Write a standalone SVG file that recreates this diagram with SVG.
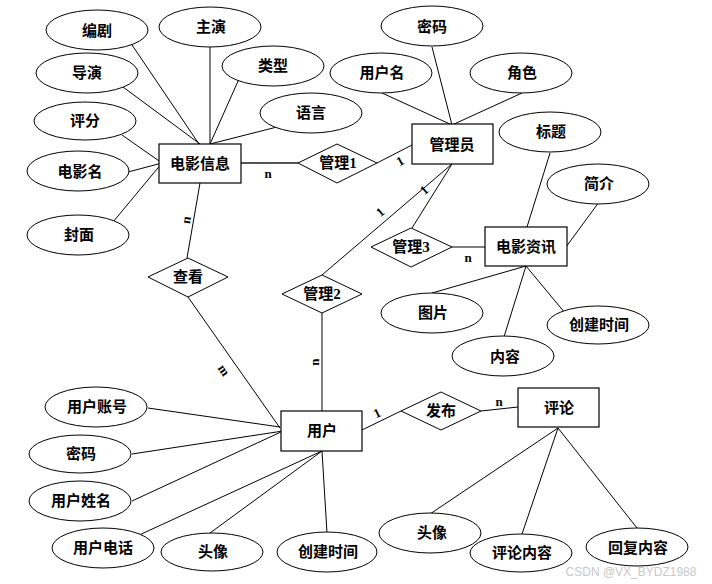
<svg xmlns="http://www.w3.org/2000/svg" width="712" height="584" viewBox="0 0 712 584">
<style>
.e{fill:#fff;stroke:#000;stroke-width:1}
.r{fill:#fff;stroke:#000;stroke-width:1.2}
.d{fill:#fff;stroke:#000;stroke-width:1}
.t{font-family:"Liberation Serif","Noto Sans CJK SC",serif;font-weight:bold;font-size:15px;text-anchor:middle;dominant-baseline:central;fill:#000}
.l{font-family:"Liberation Serif",serif;font-weight:bold;font-size:13px;text-anchor:middle;dominant-baseline:central;fill:#000}
#connectors line{stroke:#000;stroke-width:1}
</style>
<rect width="712" height="584" fill="#fff"/>
<g id="connectors">
<line x1="130" y1="42" x2="199" y2="144"/>
<line x1="210" y1="47" x2="210" y2="144"/>
<line x1="239" y1="79" x2="210" y2="144"/>
<line x1="123" y1="87" x2="200" y2="144"/>
<line x1="277" y1="127" x2="210" y2="144"/>
<line x1="122" y1="135" x2="162" y2="163"/>
<line x1="128" y1="172" x2="162" y2="163"/>
<line x1="113" y1="222" x2="162" y2="163"/>
<line x1="241" y1="163" x2="298" y2="163" style="stroke:#555;stroke-width:2"/>
<line x1="200" y1="183" x2="187" y2="258"/>
<line x1="382" y1="93" x2="452" y2="125"/>
<line x1="432" y1="47" x2="452" y2="125"/>
<line x1="522" y1="93" x2="452" y2="125"/>
<line x1="377" y1="163" x2="412" y2="145"/>
<line x1="452" y1="164" x2="412" y2="228"/>
<line x1="452" y1="164" x2="322" y2="275"/>
<line x1="452" y1="247" x2="485" y2="247"/>
<line x1="550" y1="153" x2="527" y2="227"/>
<line x1="599" y1="202" x2="566" y2="247"/>
<line x1="526" y1="266" x2="432" y2="293"/>
<line x1="526" y1="266" x2="503" y2="340"/>
<line x1="526" y1="266" x2="565" y2="313"/>
<line x1="188" y1="297" x2="280" y2="428"/>
<line x1="322" y1="313" x2="322" y2="411"/>
<line x1="148" y1="408" x2="280" y2="427"/>
<line x1="132" y1="454" x2="283" y2="431"/>
<line x1="132" y1="501" x2="283" y2="431"/>
<line x1="137" y1="536" x2="322" y2="451"/>
<line x1="210" y1="533" x2="322" y2="451"/>
<line x1="327" y1="533" x2="322" y2="451"/>
<line x1="362" y1="430" x2="401" y2="411"/>
<line x1="481" y1="411" x2="518" y2="407"/>
<line x1="558" y1="428" x2="430" y2="514"/>
<line x1="558" y1="428" x2="522" y2="534"/>
<line x1="558" y1="428" x2="637" y2="528"/>
</g>
<g id="labels">
<text class="l" x="268" y="173">n</text>
<text class="l" x="186" y="220" transform="rotate(-80 186 220)">n</text>
<text class="l" x="400" y="161" transform="rotate(-30 400 161)">1</text>
<text class="l" x="424" y="190" transform="rotate(-40 424 190)">1</text>
<text class="l" x="380" y="212" transform="rotate(-40 380 212)">1</text>
<text class="l" x="468" y="257">n</text>
<text class="l" x="224" y="370" transform="rotate(55 224 370)">m</text>
<text class="l" x="314" y="362" transform="rotate(-90 314 362)">n</text>
<text class="l" x="377" y="413" transform="rotate(-25 377 413)">1</text>
<text class="l" x="499" y="401">n</text>
</g>
<g id="movie"><rect class="r" x="159" y="144" width="82" height="39"/><text class="t" x="200" y="164">电影信息</text></g>
<g id="a-bianju"><ellipse class="e" cx="97" cy="30" rx="51" ry="20"/><text class="t" x="97" y="31">编剧</text></g>
<g id="a-zhuyan"><ellipse class="e" cx="210" cy="27" rx="51" ry="20"/><text class="t" x="211" y="27">主演</text></g>
<g id="a-leixing"><ellipse class="e" cx="273" cy="66" rx="51" ry="20"/><text class="t" x="273" y="66">类型</text></g>
<g id="a-daoyan"><ellipse class="e" cx="87" cy="73" rx="51" ry="20"/><text class="t" x="87" y="73">导演</text></g>
<g id="a-yuyan"><ellipse class="e" cx="311" cy="113" rx="51" ry="20"/><text class="t" x="311" y="113">语言</text></g>
<g id="a-pingfen"><ellipse class="e" cx="85" cy="121" rx="51" ry="19"/><text class="t" x="85" y="121">评分</text></g>
<g id="a-dianyingming"><ellipse class="e" cx="78" cy="171" rx="51" ry="20"/><text class="t" x="80" y="172">电影名</text></g>
<g id="a-fengmian"><ellipse class="e" cx="78" cy="235" rx="51" ry="20"/><text class="t" x="79" y="235">封面</text></g>
<g id="rel-guanli1"><polygon class="d" points="298,163 337,144 377,163 337,183"/><text class="t" x="338" y="163">管理1</text></g>
<g id="admin"><rect class="r" x="412" y="124" width="81" height="40"/><text class="t" x="452" y="145">管理员</text></g>
<g id="a-mima1"><ellipse class="e" cx="432" cy="26" rx="51" ry="20"/><text class="t" x="432" y="27">密码</text></g>
<g id="a-yonghuming"><ellipse class="e" cx="381" cy="73" rx="51" ry="20"/><text class="t" x="382" y="73">用户名</text></g>
<g id="a-juese"><ellipse class="e" cx="521" cy="73" rx="51" ry="20"/><text class="t" x="522" y="73">角色</text></g>
<g id="news"><rect class="r" x="485" y="227" width="82" height="39"/><text class="t" x="526" y="247">电影资讯</text></g>
<g id="a-biaoti"><ellipse class="e" cx="550" cy="132" rx="51" ry="20"/><text class="t" x="551" y="132">标题</text></g>
<g id="a-jianjie"><ellipse class="e" cx="598" cy="184" rx="51" ry="20"/><text class="t" x="599" y="184">简介</text></g>
<g id="rel-guanli3"><polygon class="d" points="371,247 411,228 452,247 411,267"/><text class="t" x="411" y="247">管理3</text></g>
<g id="a-tupian"><ellipse class="e" cx="432" cy="313" rx="51" ry="20"/><text class="t" x="433" y="313">图片</text></g>
<g id="a-neirong"><ellipse class="e" cx="503" cy="356" rx="51" ry="20"/><text class="t" x="505" y="357">内容</text></g>
<g id="a-chuangjian2"><ellipse class="e" cx="598" cy="325" rx="51" ry="19"/><text class="t" x="599" y="325">创建时间</text></g>
<g id="rel-chakan"><polygon class="d" points="148,277 188,258 228,277 188,297"/><text class="t" x="188" y="277">查看</text></g>
<g id="rel-guanli2"><polygon class="d" points="282,294 322,275 362,294 322,313"/><text class="t" x="322" y="294">管理2</text></g>
<g id="user"><rect class="r" x="281" y="411" width="81" height="40"/><text class="t" x="322" y="431">用户</text></g>
<g id="a-zhanghao"><ellipse class="e" cx="96" cy="407" rx="51" ry="20"/><text class="t" x="97" y="407">用户账号</text></g>
<g id="a-mima2"><ellipse class="e" cx="80" cy="454" rx="51" ry="19"/><text class="t" x="81" y="454">密码</text></g>
<g id="a-xingming"><ellipse class="e" cx="80" cy="501" rx="51" ry="20"/><text class="t" x="81" y="501">用户姓名</text></g>
<g id="a-dianhua"><ellipse class="e" cx="103" cy="548" rx="51" ry="20"/><text class="t" x="103" y="548">用户电话</text></g>
<g id="a-touxiang1"><ellipse class="e" cx="212" cy="552" rx="51" ry="19"/><text class="t" x="213" y="552">头像</text></g>
<g id="a-chuangjian1"><ellipse class="e" cx="327" cy="552" rx="50" ry="20"/><text class="t" x="328" y="552">创建时间</text></g>
<g id="rel-fabu"><polygon class="d" points="401,411 441,392 481,411 441,430"/><text class="t" x="441" y="411">发布</text></g>
<g id="comment"><rect class="r" x="518" y="388" width="81" height="39"/><text class="t" x="559" y="408">评论</text></g>
<g id="a-touxiang2"><ellipse class="e" cx="430" cy="533" rx="51" ry="20"/><text class="t" x="432" y="533">头像</text></g>
<g id="a-pinglunneirong"><ellipse class="e" cx="521" cy="553" rx="51" ry="19"/><text class="t" x="522" y="553">评论内容</text></g>
<g id="a-huifu"><ellipse class="e" cx="637" cy="547" rx="51" ry="19"/><text class="t" x="638" y="548">回复内容</text></g>
<text x="631" y="572" font-family="'Liberation Sans',Arial,sans-serif" font-size="12" fill="#c8c8c8" text-anchor="middle" dominant-baseline="central">CSDN @VX_BYDZ1988</text>
</svg>
